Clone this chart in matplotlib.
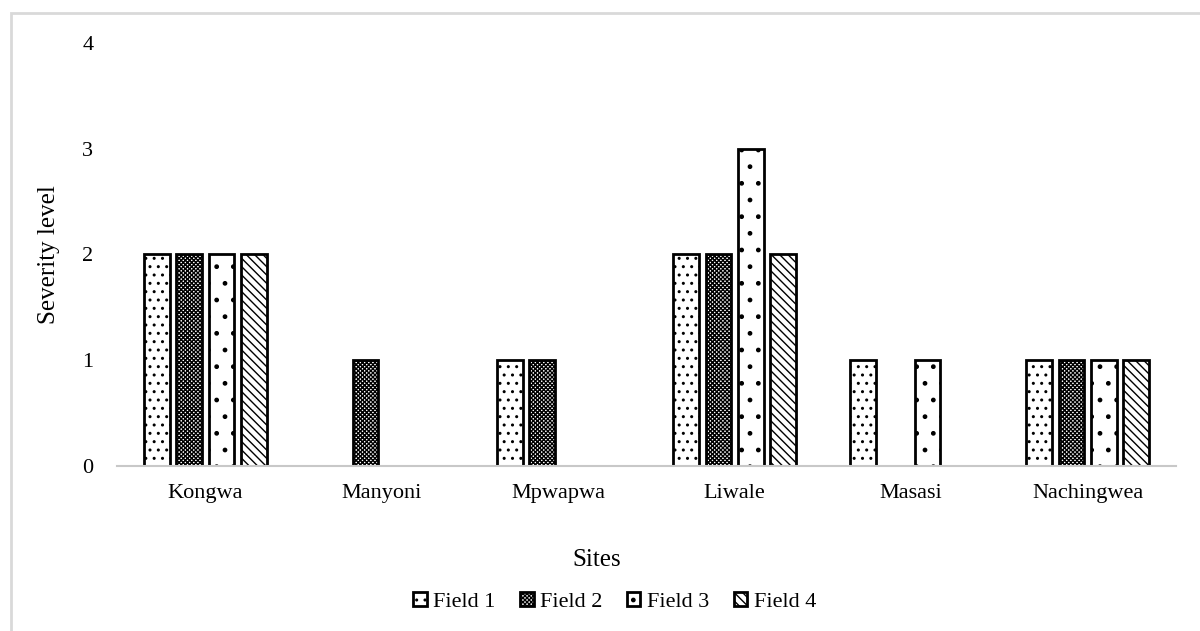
import matplotlib.pyplot as plt
import numpy as np

plt.rcParams['font.family'] = ['Liberation Serif', 'DejaVu Serif']
plt.rcParams['hatch.linewidth'] = 1.0

sites = ["Kongwa", "Manyoni", "Mpwapwa", "Liwale", "Masasi", "Nachingwea"]
field1 = [2, 0, 1, 2, 1, 1]
field2 = [2, 1, 1, 2, 0, 1]
field3 = [2, 0, 0, 3, 1, 1]
field4 = [2, 0, 0, 2, 0, 1]

series = [("Field 1", field1, ".."), ("Field 2", field2, "xxxxxxxx"),
          ("Field 3", field3, "."), ("Field 4", field4, "\\\\\\\\")]

fig = plt.figure(figsize=(12, 6.31), dpi=100)
ax = fig.add_axes([0.0975, 0.2615, 0.8825, 0.6705])

x = np.arange(len(sites))
step = 0.184
width = 0.147
for i, (name, vals, h) in enumerate(series):
    vals = np.array(vals)
    keep = vals > 0
    ax.bar(x[keep] + (i - 1.5) * step, vals[keep], width, label=name, color="white",
           edgecolor="black", linewidth=2, hatch=h)

ax.set_xlim(-0.5, len(sites) - 0.5)
ax.set_ylim(0, 4)
ax.set_yticks([0, 1, 2, 3, 4])
ax.set_xticks(x)
ax.set_xticklabels(sites)
ax.tick_params(axis="y", length=0, pad=17, labelsize=16)
ax.tick_params(axis="x", length=0, pad=13, labelsize=16)
for s in ["top", "right", "left"]:
    ax.spines[s].set_visible(False)
ax.spines["bottom"].set_color("#c8c8c8")
ax.spines["bottom"].set_linewidth(1.5)

ax.set_ylabel("Severity level", fontsize=18, labelpad=16)
ax.set_xlabel("Sites", fontsize=18)
ax.xaxis.set_label_coords(0.453, -0.197)

ax.legend(loc="center", bbox_to_anchor=(0.470, -0.322), ncol=4, frameon=False,
          fontsize=16, handlelength=0.6, handleheight=0.6, handletextpad=0.3,
          columnspacing=1.1, borderpad=0)

# light frame (only top and left edges fall inside the image)
fig.patches.append(plt.Rectangle((11 / 1200, -0.05), 1.2, 1 - 13 / 631 + 0.05,
                                 transform=fig.transFigure, fill=False,
                                 edgecolor="#d9d9d9", linewidth=2))

fig.savefig("out.png", dpi=100)
